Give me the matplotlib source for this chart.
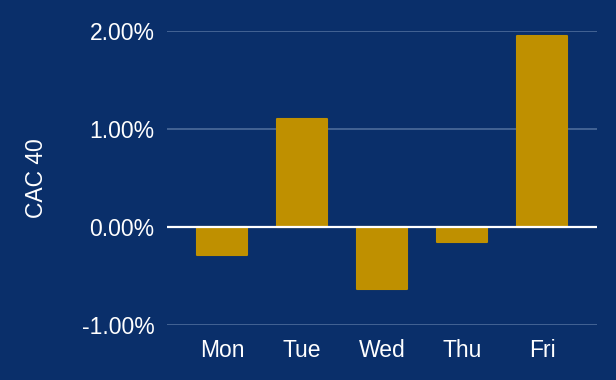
import matplotlib.pyplot as plt
from matplotlib.ticker import FuncFormatter

# Daily change of the CAC 40, in percent
days = ['Mon', 'Tue', 'Wed', 'Thu', 'Fri']
changes = [-0.29, 1.10, -0.63, -0.15, 1.95]
y_ticks = [-1.0, 0.0, 1.0, 2.0]

bg = '#0a2f6a'
gold = '#bf9000'
grid_col = '#4d6c9b'

plt.rcParams['font.family'] = ['Liberation Sans', 'DejaVu Sans']

fig = plt.figure(figsize=(6.16, 3.8), dpi=100, facecolor=bg)
ax = fig.add_axes([167 / 616, 1 - 325 / 380, 430 / 616, 294 / 380])
ax.set_facecolor(bg)

ax.bar(range(len(days)), changes, width=0.63, color=gold, edgecolor=gold,
       linewidth=1.5, joinstyle='round', zorder=2)

# gridlines and the white zero line
for t in y_ticks:
    ax.axhline(t, color=grid_col, linewidth=1.2, zorder=1)
ax.axhline(0, color='white', linewidth=1.6, zorder=3)

ax.set_xlim(-0.6875, 4.6875)
ax.set_ylim(-1.0, 2.0)
ax.set_yticks(y_ticks)
ax.yaxis.set_major_formatter(FuncFormatter(lambda v, p: f'{v:.2f}%'))
ax.set_xticks(range(len(days)))
ax.set_xticklabels(days)

ax.tick_params(axis='both', length=0, colors='white', labelsize=16.5)
ax.tick_params(axis='y', pad=9)
ax.tick_params(axis='x', pad=10)

for s in ax.spines.values():
    s.set_visible(False)

ax.set_ylabel('CAC 40', color='white', fontsize=16.5, labelpad=24)

fig.savefig('out.png', dpi=100, facecolor=bg)
